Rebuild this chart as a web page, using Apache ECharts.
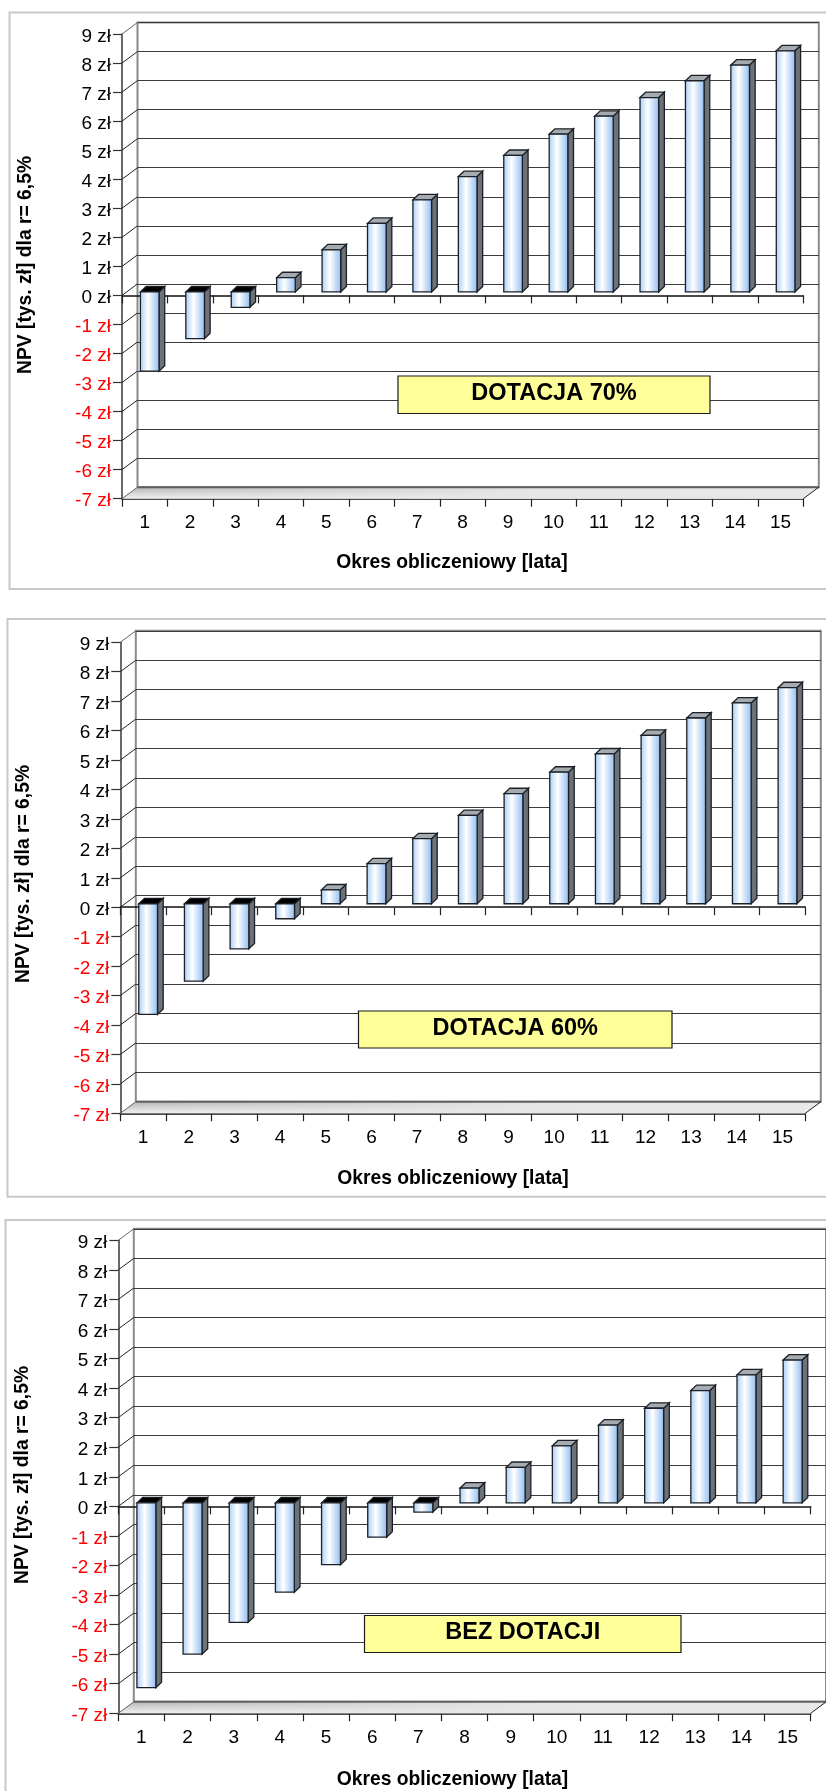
<!DOCTYPE html>
<html>
<head>
<meta charset="utf-8">
<script src="https://cdn.jsdelivr.net/npm/echarts@6/dist/echarts.min.js"></script>
<style>html,body{margin:0;padding:0;background:#fff;overflow:hidden}#c{width:826px;height:1791px}</style>
</head>
<body>
<div id="c"></div>
<script>
const categories = ['1','2','3','4','5','6','7','8','9','10','11','12','13','14','15'];
const yTicks = [9,8,7,6,5,4,3,2,1,0,-1,-2,-3,-4,-5,-6,-7];
const npv70 = [-2.73,-1.61,-0.53,0.49,1.45,2.36,3.17,3.97,4.70,5.43,6.05,6.69,7.27,7.81,8.30];
const npv60 = [-3.76,-2.63,-1.53,-0.51,0.47,1.36,2.21,3.0,3.74,4.47,5.09,5.72,6.31,6.82,7.34];
const npv0 = [-6.25,-5.12,-4.04,-3.02,-2.09,-1.16,-0.31,0.5,1.2,1.93,2.63,3.2,3.8,4.33,4.83];
const boxLabels = ['DOTACJA 70%','DOTACJA 60%','BEZ DOTACJI'];
const xTitle = 'Okres obliczeniowy [lata]';
const yTitle = 'NPV [tys. zł] dla r= 6,5%';

const FONT = '"Liberation Sans", Arial, sans-serif';
const DX = 15.5, DY = 11.5;            // depth of the wall
const BAR_DX = 5, BAR_DY = 3.5;        // bar position inside the depth
const SIDE_DX = 5.7, SIDE_DY = 5.4;    // bar side/top depth

const layouts = [
  {values:npv70, l:122,   r:803.3, t:34,     b:498.7,
   frame:[9.5,12.5,589],    box:[398,376,312,37.5],   xt:[452,563],  yt:[26,265]},
  {values:npv60, l:120.3, r:805.3, t:642.3,  b:1113.3,
   frame:[7.5,619,1196.7],  box:[358.5,1011,313.5,37], xt:[453,1179], yt:[24,874]},
  {values:npv0,  l:118.3, r:810.7, t:1240.3, b:1713.3,
   frame:[5.5,1220,1800],   box:[364.5,1615.5,316.5,37], xt:[452.5,1780], yt:[23,1475]}
];

const grids=[], xAxes=[], yAxes=[], series=[], graphics=[];

function barItem(params, api){
  const v = api.value(1);
  const c0 = api.coord([api.value(0), 0]);
  const c1 = api.coord([api.value(0), v]);
  const w = api.size([1,0])[0]*0.41;
  const x0 = c0[0]+BAR_DX-w/2, x1 = x0+w;
  const yBase = c0[1]-BAR_DY, yVal = c1[1]-BAR_DY;
  const yTop = Math.min(yBase,yVal), yBot = Math.max(yBase,yVal);
  const stroke = {stroke:'#1c2026', lineWidth:1.3};
  return {type:'group', children:[
    {type:'polygon', shape:{points:[[x1,yTop],[x1+SIDE_DX,yTop-SIDE_DY],[x1+SIDE_DX,yBot-SIDE_DY],[x1,yBot]]},
     style:Object.assign({fill:'#6c7278'},stroke)},
    {type:'polygon', shape:{points:[[x0,yTop],[x0+SIDE_DX,yTop-SIDE_DY],[x1+SIDE_DX,yTop-SIDE_DY],[x1,yTop]]},
     style:Object.assign({fill: v<0 ? '#000000' : '#a4acb2'},stroke)},
    {type:'rect', shape:{x:x0,y:yTop,width:w,height:yBot-yTop},
     style:Object.assign({fill:new echarts.graphic.LinearGradient(0,0,1,0,[
       {offset:0,color:'#a8cdf5'},{offset:0.42,color:'#ffffff'},{offset:1,color:'#8fbcf0'}])},stroke)}
  ]};
}

function wallItem(params, api){
  const cs = params.coordSys;
  const y = api.coord([0, api.value(1)])[1];
  return {type:'line', shape:{x1:cs.x,y1:y,x2:cs.x+DX,y2:y-DY},
          style:{stroke: api.value(1)===9||api.value(1)===-7 ? '#666':'#222', lineWidth:1}};
}

function floorItem(params){
  const cs = params.coordSys;
  const b = cs.y+cs.height, L=cs.x, R=cs.x+cs.width;
  const pts = [[L,b],[R,b],[R+DX,b-DY],[L+DX,b-DY]];
  return {type:'group', children:[
    {type:'polygon', shape:{points:pts}, style:{fill:new echarts.graphic.LinearGradient(0,0,0,1,[
      {offset:0,color:'#b4b4b4'},{offset:1,color:'#f2f2f2'}])}},
    {type:'polygon', shape:{points:pts}, style:{fill:new echarts.graphic.LinearGradient(0,0,1,0,[
      {offset:0,color:'rgba(230,230,230,0)'},{offset:0.6,color:'rgba(230,230,230,1)'},{offset:1,color:'rgba(232,232,232,1)'}])}},
    {type:'line', shape:{x1:L+DX,y1:b-DY,x2:R+DX,y2:b-DY}, style:{stroke:'#606060',lineWidth:2}},
    {type:'line', shape:{x1:R,y1:b,x2:R+DX,y2:b-DY}, style:{stroke:'#222',lineWidth:1}}
  ]};
}

layouts.forEach((p,i)=>{
  const back = grids.length, front = back+1;
  grids.push({show:true,left:p.l+DX,top:p.t-DY,width:p.r-p.l,height:p.b-p.t,
              borderColor:'#8a8a8a',borderWidth:2,backgroundColor:'#fff'});
  grids.push({left:p.l,top:p.t,width:p.r-p.l,height:p.b-p.t});

  xAxes.push({type:'category',gridIndex:back,data:categories,show:false});
  yAxes.push({type:'value',gridIndex:back,min:-7,max:9,interval:1,
    axisLine:{show:false},axisTick:{show:false},axisLabel:{show:false},
    splitLine:{show:true,lineStyle:{color:'#3a3a3a',width:1.2}}});

  xAxes.push({type:'category',gridIndex:front,data:categories,position:'bottom',
    axisLine:{show:true,onZero:true,lineStyle:{color:'#111',width:1.5}},
    axisTick:{show:true,length:8,lineStyle:{color:'#222',width:1.2}},
    axisLabel:{show:false},splitLine:{show:false}});
  const xl = xAxes.length;
  xAxes.push({type:'category',gridIndex:front,data:categories,position:'bottom',
    axisLine:{show:true,onZero:false,lineStyle:{color:'#111',width:1.5}},
    axisTick:{show:true,length:8,lineStyle:{color:'#222',width:1.2}},
    axisLabel:{show:true,interval:0,margin:15,fontSize:19,fontFamily:FONT,color:'#000'},
    splitLine:{show:false}});
  const yf = yAxes.length;
  const richBase = {fontSize:19,fontFamily:FONT,padding:[5,0,0,0]};
  yAxes.push({type:'value',gridIndex:front,min:-7,max:9,interval:1,
    axisLine:{show:true,onZero:false,lineStyle:{color:'#444',width:1.6}},
    axisTick:{show:true,length:9,lineStyle:{color:'#333',width:1.2}},
    axisLabel:{show:true,margin:11,fontSize:19,fontFamily:FONT,
      formatter:v=>(Number(v)<0?'{neg|':'{pos|')+v+' zł}',
      rich:{pos:Object.assign({color:'#000000'},richBase),neg:Object.assign({color:'#ff0000'},richBase)}},
    splitLine:{show:false}});

  series.push({type:'custom',name:'floor'+i,xAxisIndex:xl,yAxisIndex:yf,z:1,silent:true,
    data:[[0,0]],renderItem:floorItem});
  series.push({type:'custom',name:'wall'+i,xAxisIndex:xl,yAxisIndex:yf,z:1,silent:true,
    data:yTicks.map(v=>[0,v]),renderItem:wallItem});
  series.push({type:'custom',name:'NPV'+i,xAxisIndex:xl,yAxisIndex:yf,z:3,
    encode:{x:0,y:1},data:p.values.map((v,k)=>[k,v]),renderItem:barItem});

  const f=p.frame;
  graphics.push({type:'polyline',z:0,shape:{points:[[830,f[1]],[f[0],f[1]],[f[0],f[2]],[830,f[2]]]},
    style:{fill:'none',stroke:'#c8c8c8',lineWidth:2}});
  const bx=p.box;
  graphics.push({type:'rect',z:10,shape:{x:bx[0],y:bx[1],width:bx[2],height:bx[3]},
    style:{fill:'#ffff99',stroke:'#1a1a1a',lineWidth:1.2}});
  graphics.push({type:'text',z:11,x:bx[0]+bx[2]/2,y:bx[1]+bx[3]/2-1,
    style:{text:boxLabels[i],font:'bold 23.5px '+FONT,fill:'#000',textAlign:'center',textVerticalAlign:'middle'}});
  graphics.push({type:'text',z:11,x:p.xt[0],y:p.xt[1],
    style:{text:xTitle,font:'bold 19.3px '+FONT,fill:'#000',textAlign:'center',textVerticalAlign:'middle'}});
  graphics.push({type:'text',z:11,x:p.yt[0],y:p.yt[1],rotation:Math.PI/2,
    style:{text:yTitle,font:'bold 19.3px '+FONT,fill:'#000',textAlign:'center',textVerticalAlign:'middle'}});
});

const chart = echarts.init(document.getElementById('c'),null,{renderer:'canvas',width:826,height:1791});
chart.setOption({animation:false,backgroundColor:'#ffffff',tooltip:{show:false},
  grid:grids,xAxis:xAxes,yAxis:yAxes,series:series,graphic:{elements:graphics}});
</script>
</body>
</html>
